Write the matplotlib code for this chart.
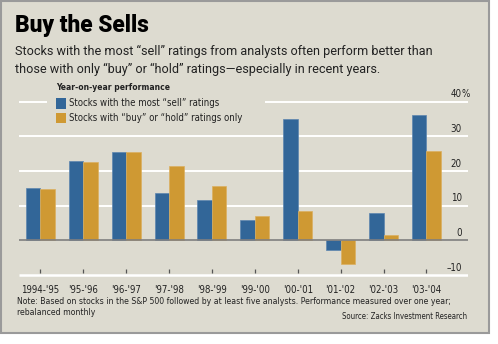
import matplotlib
matplotlib.use("Agg")
import matplotlib.pyplot as plt
from matplotlib import font_manager as fm
from matplotlib.patches import Rectangle
import numpy as np

periods = ["1994-'95", "'95-'96", "'96-'97", "'97-'98", "'98-'99",
           "'99-'00", "'00-'01", "'01-'02", "'02-'03", "'03-'04"]
sell_most = [15.0, 23.0, 25.4, 13.7, 11.6, 6.0, 35.0, -2.9, 8.0, 36.3]
buy_hold = [14.8, 22.5, 25.4, 21.5, 15.6, 6.9, 8.4, -6.7, 1.5, 25.7]
y_ticks = [40, 30, 20, 10, 0, -10]
series_names = ["Stocks with the most \u201csell\u201d ratings",
                "Stocks with \u201cbuy\u201d or \u201chold\u201d ratings only"]

cond_reg = None
cond_bold = None
for f in fm.fontManager.ttflist:
    fn = f.fname.lower()
    if ('condensed' in fn or 'narrow' in fn) and 'oblique' not in fn and 'italic' not in fn:
        if 'bold' in fn:
            if cond_bold is None or 'dejavusans' in fn:
                cond_bold = f.fname
        else:
            if cond_reg is None or 'dejavusans' in fn:
                cond_reg = f.fname
if cond_reg:
    NARROW = fm.FontProperties(fname=cond_reg)
    SCALE = 1.0
else:
    NARROW = fm.FontProperties(family='Liberation Sans')
    SCALE = 0.82
NARROW_B = fm.FontProperties(fname=cond_bold) if cond_bold else fm.FontProperties(family='Liberation Sans', weight='bold')

def nfp(size, bold=False):
    p = (NARROW_B if bold else NARROW).copy()
    p.set_size(size * SCALE)
    return p

BG = '#dddbd0'
BLUE = '#326698'
ORANGE = '#cf9933'
TXT = '#222222'

W, H = 498, 344
fig = plt.figure(figsize=(W / 100, H / 100), dpi=100)
fig.patch.set_facecolor('white')
fig.patches.append(Rectangle((0.5 / W, 1 - 333 / H), 488 / W, 332.5 / H,
                             transform=fig.transFigure, facecolor=BG,
                             edgecolor='#9a9a9a', linewidth=1.5, zorder=-10))

def fx(px):
    return px / W

def fy(py):
    return 1 - py / H

# axes: -10 at y=275px, 40 at y=101.7px ; extend a bit (-11 .. 41)
ppu = (275 - 101.7) / 50.0
ax = fig.add_axes([fx(19), fy(275 + ppu), fx(468) - fx(19), (52 * ppu) / H])
ax.set_zorder(5)
ax.set_facecolor('none')
ax.set_xlim(-0.5, 9.97)
ax.set_ylim(-11, 41)
for s in ax.spines.values():
    s.set_visible(False)
ax.set_xticks([])
ax.set_yticks([])

x = np.arange(len(periods))
bw = 0.338
for v in [30, 20, 10]:
    ax.plot([-0.5, 9.97], [v, v], color='white', lw=1.4, zorder=1, solid_capstyle='butt')
ax.plot([-0.5, 9.97], [-10, -10], color='white', lw=1.8, zorder=1, solid_capstyle='butt')
ax.plot([-0.5, 0.15], [40, 40], color='white', lw=1.4, zorder=1, solid_capstyle='butt')
ax.plot([5.23, 9.97], [40, 40], color='white', lw=1.4, zorder=1, solid_capstyle='butt')

ax.bar(x - bw / 2, sell_most, bw, color=BLUE, edgecolor='#5c86b0', linewidth=0.5, zorder=2)
ax.bar(x + bw / 2, buy_hold, bw, color=ORANGE, edgecolor='#dcb060', linewidth=0.5, zorder=2)
ax.plot([-0.5, 9.97], [0, 0], color='#7f7f7f', lw=1.2, zorder=3, solid_capstyle='butt')

ax.vlines(x, -9.3, -8.2, color='#555555', lw=0.9, zorder=3)

xr = (462 - 40.5) / 42.9
for v in y_ticks:
    ax.text(xr, v + 0.7, f"{v}".replace('-', '\u2013'), ha='right', va='bottom',
            fontproperties=nfp(7), color=TXT, clip_on=False)
ax.text(xr, 40 + 0.7, "%", ha='left', va='bottom', fontproperties=nfp(7),
        color=TXT, clip_on=False)

for i, lab in enumerate(periods):
    ax.text(i, -14.3, lab, ha='center', va='center', fontproperties=nfp(6.9),
            color=TXT, clip_on=False)

fig.text(fx(15), fy(32), "Buy the Sells", ha='left', va='baseline',
         fontsize=16.3, fontweight='black', family='Roboto', color='black')
fig.text(fx(15), fy(55), "Stocks with the most \u201csell\u201d ratings from analysts often perform better than",
         ha='left', va='baseline', fontsize=9.1, family='Roboto', color=TXT)
fig.text(fx(15), fy(72.5), "those with only \u201cbuy\u201d or \u201chold\u201d ratings\u2014especially in recent years.",
         ha='left', va='baseline', fontsize=9.1, family='Roboto', color=TXT)

fig.text(fx(56), fy(90), "Year-on-year performance", ha='left', va='baseline',
         fontproperties=nfp(6.1, bold=True), color=TXT)

for j, (nm, col) in enumerate(zip(series_names, [BLUE, ORANGE])):
    yc = 103.5 + j * 14.5
    fig.patches.append(Rectangle((fx(56), fy(yc + 5)), 10 / W, 10 / H,
                                 transform=fig.transFigure, facecolor=col, edgecolor='none'))
    fig.text(fx(69), fy(yc), nm, ha='left', va='center', fontproperties=nfp(6.9),
             color=TXT)

fig.text(fx(17), fy(302), "Note: Based on stocks in the S&P 500 followed by at least five analysts. Performance measured over one year;",
         ha='left', va='center', fontproperties=nfp(6.2), color=TXT)
fig.text(fx(17), fy(312.5), "rebalanced monthly", ha='left', va='center', fontproperties=nfp(6.2),
         color=TXT)
fig.text(fx(467), fy(316.5), "Source: Zacks Investment Research", ha='right', va='center',
         fontproperties=nfp(5.6), color=TXT)

fig.savefig('out.png', dpi=100, facecolor=fig.get_facecolor())
